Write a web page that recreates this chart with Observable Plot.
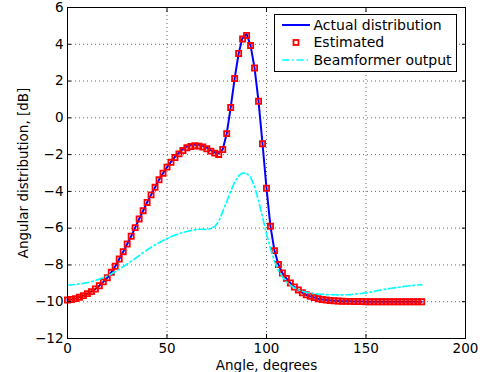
<!DOCTYPE html>
<html><head><meta charset="utf-8">
<script src="https://cdn.jsdelivr.net/npm/d3@7"></script>
<script src="https://cdn.jsdelivr.net/npm/@observablehq/plot@0.6"></script>
<style>body{margin:0;background:#fff} #chart{position:relative;width:482px;height:372px}</style>
</head><body><div id="chart"></div>
<script>
const angles = [
  0,2,4,6,8,10,12,14,16,18,
  20,22,24,26,28,30,32,34,36,38,
  40,42,44,46,48,50,52,54,56,58,
  60,62,64,66,68,70,72,74,76,78,
  80,82,84,86,88,90,92,94,96,98,
  100,102,104,106,108,110,112,114,116,118,
  120,122,124,126,128,130,132,134,136,138,
  140,142,144,146,148,150,152,154,156,158,
  160,162,164,166,168,170,172,174,176,178
];
const estimated = [
  -9.91,-9.88,-9.83,-9.76,-9.67,-9.56,-9.45,-9.31,-9.13,-8.92,
  -8.70,-8.40,-8.07,-7.68,-7.28,-6.86,-6.44,-5.97,-5.50,-5.05,
  -4.60,-4.19,-3.78,-3.37,-3.01,-2.68,-2.42,-2.16,-1.96,-1.78,
  -1.63,-1.56,-1.52,-1.54,-1.59,-1.68,-1.81,-1.92,-1.99,-1.72,
  -0.86,0.56,2.14,3.50,4.29,4.48,3.93,2.71,0.90,-1.41,
  -3.83,-5.90,-7.22,-7.98,-8.44,-8.73,-8.98,-9.20,-9.36,-9.51,
  -9.62,-9.70,-9.77,-9.84,-9.88,-9.91,-9.93,-9.95,-9.96,-9.97,
  -9.98,-9.98,-9.99,-9.99,-9.99,-10,-10,-10,-10,-10,
  -10,-10,-10,-10,-10,-10,-10,-10,-10,-10
];
const actual = [
  -9.91,-9.88,-9.83,-9.76,-9.67,-9.56,-9.45,-9.31,-9.13,-8.92,
  -8.70,-8.40,-8.07,-7.68,-7.28,-6.86,-6.44,-5.97,-5.50,-5.05,
  -4.60,-4.19,-3.78,-3.37,-3.01,-2.68,-2.40,-2.12,-1.90,-1.70,
  -1.56,-1.48,-1.45,-1.46,-1.52,-1.62,-1.76,-1.88,-1.93,-1.72,
  -0.86,0.56,2.14,3.50,4.38,4.56,3.93,2.71,0.90,-1.41,
  -3.83,-5.90,-7.22,-7.98,-8.44,-8.73,-8.98,-9.20,-9.36,-9.51,
  -9.62,-9.70,-9.77,-9.84,-9.88,-9.91,-9.93,-9.95,-9.96,-9.97,
  -9.98,-9.98,-9.99,-9.99,-9.99,-10,-10,-10,-10,-10,
  -10,-10,-10,-10,-10,-10,-10,-10,-10,-10
];
const beamformer = [
  -9.09,-9.08,-9.06,-9.03,-9.00,-8.96,-8.91,-8.85,-8.77,-8.69,
  -8.60,-8.49,-8.37,-8.23,-8.09,-7.95,-7.80,-7.65,-7.49,-7.33,
  -7.18,-7.04,-6.90,-6.79,-6.67,-6.56,-6.47,-6.38,-6.30,-6.23,
  -6.18,-6.13,-6.09,-6.06,-6.06,-6.07,-6.02,-5.92,-5.62,-5.10,
  -4.55,-4.00,-3.50,-3.15,-3.00,-3.02,-3.23,-3.75,-4.50,-5.40,
  -6.30,-7.10,-7.80,-8.30,-8.65,-8.92,-9.10,-9.24,-9.35,-9.43,
  -9.49,-9.53,-9.56,-9.58,-9.60,-9.61,-9.62,-9.62,-9.63,-9.63,
  -9.62,-9.61,-9.59,-9.57,-9.55,-9.52,-9.48,-9.44,-9.39,-9.35,
  -9.31,-9.28,-9.25,-9.22,-9.19,-9.16,-9.13,-9.11,-9.09,-9.07
];
const xTicks = [0, 50, 100, 150, 200];
const yTicks = [-12, -10, -8, -6, -4, -2, 0, 2, 4, 6];
const seriesNames = ["Actual distribution", "Estimated", "Beamformer output"];
const seriesColors = ["#0000ff", "#ff0000", "#00ffff"];
const xLabel = "Angle, degrees";
const yLabel = "Angular distribution, [dB]";

const fmt = d => d < 0 ? "\u2212" + Math.abs(d) : String(d);
const rows = angles.map((a, i) => ({a, actual: actual[i], est: estimated[i], bf: beamformer[i]}));
const dashDot = "7,3,1.5,3";

const chart = Plot.plot({
  width: 482, height: 372,
  marginLeft: 67, marginRight: 17, marginTop: 7, marginBottom: 34,
  style: {fontFamily: "DejaVu Sans", fontSize: "13.5px", background: "#fff", color: "#000"},
  x: {domain: [0, 200]},
  y: {domain: [-12, 6]},
  marks: [
    Plot.gridX(xTicks.slice(1, -1), {stroke: "#000", strokeOpacity: 0.6, strokeDasharray: "1,3"}),
    Plot.gridY(yTicks.slice(1, -1), {stroke: "#000", strokeOpacity: 0.6, strokeDasharray: "1,3"}),
    Plot.line(rows, {x: "a", y: "actual", stroke: seriesColors[0], strokeWidth: 2}),
    Plot.dot(rows, {x: "a", y: "est", symbol: "square", r: 2.9, stroke: seriesColors[1], strokeWidth: 1.8, fill: "none"}),
    Plot.line(rows, {x: "a", y: "bf", stroke: seriesColors[2], strokeWidth: 1.7, strokeDasharray: dashDot}),
    Plot.axisX(xTicks, {tickSize: 0, tickPadding: 5, tickFormat: fmt, label: xLabel, labelAnchor: "center", labelOffset: 31, labelArrow: "none"}),
    Plot.axisX(xTicks, {anchor: "bottom", tickSize: -4, tickFormat: () => "", label: null}),
    Plot.axisX(xTicks, {anchor: "top", tickSize: -4, tickFormat: () => "", label: null}),
    Plot.axisY(yTicks, {tickSize: 0, tickPadding: 4, tickFormat: fmt, label: yLabel, labelAnchor: "center", labelOffset: 49, labelArrow: "none"}),
    Plot.axisY(yTicks, {anchor: "left", tickSize: -4, tickFormat: () => "", label: null}),
    Plot.axisY(yTicks, {anchor: "right", tickSize: -4, tickFormat: () => "", label: null}),
    Plot.frame({stroke: "#000", strokeWidth: 1})
  ]
});
document.getElementById("chart").appendChild(chart);

// legend inside the axes (north-east)
const svg = d3.select(chart);
const lg = svg.append("g").attr("font-family", "DejaVu Sans").attr("font-size", 14).attr("text-anchor", "start");
lg.append("rect").attr("x", 274.5).attr("y", 14.5).attr("width", 182).attr("height", 57)
  .attr("fill", "#fff").attr("stroke", "#000").attr("stroke-width", 1);
const rowY = [25, 42.5, 60];
lg.append("line").attr("x1", 282).attr("x2", 310).attr("y1", rowY[0]).attr("y2", rowY[0])
  .attr("stroke", seriesColors[0]).attr("stroke-width", 2);
lg.append("rect").attr("x", 293.5).attr("y", rowY[1] - 2.5).attr("width", 5).attr("height", 5)
  .attr("fill", "none").attr("stroke", seriesColors[1]).attr("stroke-width", 1.8);
lg.append("line").attr("x1", 282).attr("x2", 310).attr("y1", rowY[2]).attr("y2", rowY[2])
  .attr("stroke", seriesColors[2]).attr("stroke-width", 1.7).attr("stroke-dasharray", dashDot);
seriesNames.forEach((n, i) => {
  lg.append("text").attr("x", 313.5).attr("y", rowY[i]).attr("dy", "0.35em")
    .attr("text-anchor", "start").attr("fill", "#000").text(n);
});
</script>
</body></html>
